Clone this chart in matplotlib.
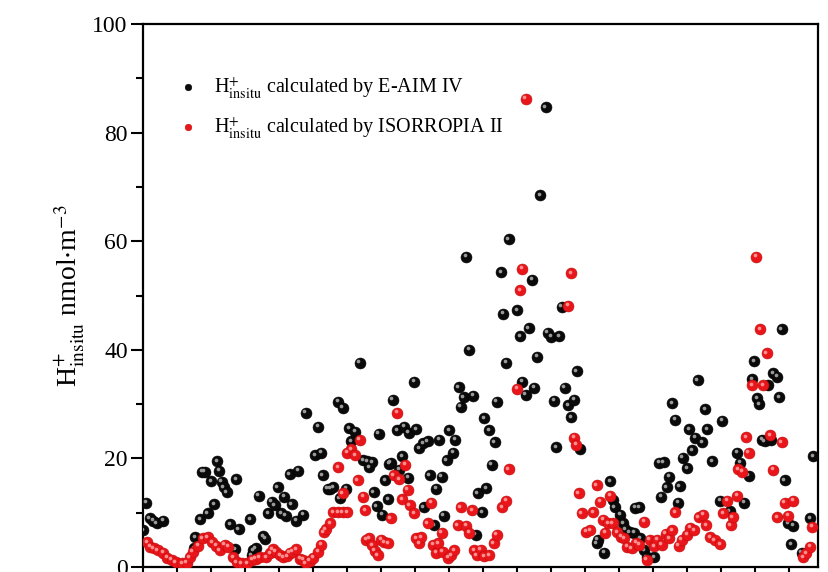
import matplotlib.pyplot as plt
import matplotlib.transforms as mtrans
import numpy as np

# H+ insitu, E-AIM IV (black) -- sample position / value
eaim_x = [0, 1, 2, 3, 4, 6, 15, 15.3, 16.8, 17.4, 18.2, 19.1, 20, 20.9, 21.8, 22.4, 23.2, 23.8,
          24.7, 25.6, 27.1, 27.4, 28.2, 31.5, 32, 32.4, 33.2, 34.1, 35.3, 35.9, 36.8, 37.9, 38.8,
          39.7, 40.6, 41.5, 42, 43.2, 43.8, 45, 45.6, 47.1, 47.9, 50.6, 51.5, 52.4, 52.9, 54.3,
          55, 55.9, 57.4, 57.9, 58.8, 59.7, 60.6, 61.2, 62.4, 63.8, 64.7, 65.9, 66.5, 67.4, 67.9,
          68.8, 69.4, 70.3, 71.2, 72.1, 72.4, 72.9, 73.5, 74.7, 75.3, 76.2, 76.8, 78, 78.2, 79.7,
          80.3, 81.2, 82.4, 82.6, 83.8, 84.4, 85.6, 86.2, 87.1, 87.9, 88.5, 89.4, 90, 91.2, 91.8,
          92.9, 93.5, 94.4, 95, 95.9, 97.1, 97.9, 98.5, 99.7, 100.3, 100.9, 101.8, 102.6, 103.5,
          104.1, 105.3, 105.9, 106.8, 107.6, 110, 110.9, 111.5, 112.6, 113.5, 114.4, 115, 115.9,
          116.8, 118.5, 119.1, 120, 120.9, 121.5, 122.4, 123.2, 124.1, 125, 125.9, 126.8, 127.6,
          128.5, 133.5, 133.8, 135.6, 137.4, 138.2, 138.8, 140.3, 141.2, 141.8, 143.2, 144.4,
          144.7, 145.9, 146.2, 147.4, 148.2, 150.3, 151.8, 152.4, 153.2, 154.1, 154.7, 155.6,
          156.5, 157.4, 157.9, 158.8, 160, 160.6, 161.5, 162.4, 163.2, 164.4, 165.3, 165.9, 167.4,
          169.7, 170.3, 172.6, 174.7, 175.6, 176.8, 178.2, 179.1, 179.7, 180.6, 181.2, 182.1,
          182.9, 183.8, 184.7, 185.3, 186.5, 187.1, 187.9, 188.8, 189.7, 190.6, 191.2, 193.8,
          196.2, 197.1]
eaim_y = [6.8, 11.8, 9.0, 8.5, 8.1, 8.5, 3.5, 5.5, 8.8, 17.5, 17.5, 9.9, 15.8, 11.6, 19.5, 17.7,
          15.7, 14.7, 13.8, 7.9, 3.3, 16.2, 7.0, 8.8, 2.2, 3.1, 3.5, 13.1, 5.7, 5.2, 9.9, 12.0,
          11.4, 14.7, 9.9, 12.9, 9.4, 17.1, 11.6, 8.5, 17.7, 9.6, 28.4, 20.6, 25.8, 21.0, 16.9,
          14.4, 14.4, 14.7, 30.4, 12.7, 29.3, 14.4, 25.6, 23.2, 24.9, 37.6, 19.7, 19.5, 18.4,
          19.3, 13.8, 11.2, 24.5, 9.6, 16.0, 12.5, 19.0, 19.2, 30.8, 25.2, 17.9, 20.4, 25.8, 16.4,
          24.7, 34.1, 25.4, 21.9, 22.8, 11.0, 23.2, 16.9, 7.7, 14.4, 23.4, 16.6, 9.4, 19.7, 25.2,
          21.0, 23.4, 33.1, 29.5, 31.3, 57.1, 40.0, 31.5, 5.9, 13.6, 10.1, 27.4, 14.5, 25.2, 18.8,
          23.0, 30.4, 54.3, 46.6, 37.6, 60.4, 47.3, 42.5, 34.1, 31.7, 44.0, 52.9, 33.0, 38.7,
          68.5, 84.7, 43.1, 42.4, 30.6, 22.1, 42.5, 47.9, 33.0, 29.8, 27.6, 30.8, 36.1, 21.7,
          4.4, 5.0, 2.6, 15.8, 12.3, 11.0, 9.6, 8.1, 7.0, 6.4, 6.3, 10.9, 11.0, 5.3, 3.1, 1.8,
          1.8, 19.2, 12.9, 19.3, 14.7, 16.6, 30.2, 27.1, 11.8, 14.9, 20.1, 18.2, 25.4, 21.5, 23.8,
          34.4, 23.0, 29.1, 25.4, 19.5, 12.2, 26.9, 10.3, 21.0, 19.2, 11.8, 16.8, 34.6, 37.9,
          31.1, 30.0, 23.4, 23.2, 33.5, 23.4, 35.7, 35.0, 31.3, 43.8, 16.0, 8.1, 4.2, 7.6, 2.6,
          9.0, 20.4]

# H+ insitu, ISORROPIA II (red)
isor_x = [1.2, 2.1, 3.2, 4.4, 5.9, 7.1, 8.5, 9.7, 11.5, 12.9, 13.8, 14.7, 16.2, 17.6, 19.1, 20.3,
          21.5, 22.6, 24.1, 25, 26.5, 27.6, 29.1, 30.6, 32.1, 33.2, 34.4, 36.2, 37.4, 38.2, 39.1,
          40.3, 41.2, 42.4, 43.2, 44.1, 45, 46.2, 47.1, 47.9, 49.1, 50, 51.5, 52.4, 53.2, 53.8,
          55, 55.9, 57.4, 58.8, 60, 57.4, 58.8, 60, 61.2, 62.4, 63.2, 63.8, 64.7, 65.3, 65.6,
          66.5, 67.4, 68.2, 69.1, 70, 70.9, 72.1, 72.9, 73.8, 74.7, 75.3, 76.2, 77.1, 77.9, 78.5,
          79.7, 80.3, 81.2, 81.8, 83.8, 84.7, 85.3, 86.2, 86.8, 87.9, 88.2, 89.7, 90.6, 91.5,
          92.6, 93.5, 95, 95.9, 96.8, 97.4, 98.2, 99.4, 100.3, 101.8, 103.2, 104.1, 105.6, 106.8,
          107.6, 110, 110.9, 111.5, 112.6, 125, 125.9, 126.8, 127.4, 128.2, 129.1, 130.3, 131.5,
          132.4, 133.5, 134.4, 135.3, 135.9, 136.8, 137.4, 138.2, 139.4, 140.6, 141.5, 142.4,
          143.8, 145, 145.9, 147.4, 148.2, 149.1, 150.3, 151.2, 152.6, 153.8, 154.7, 155.6,
          156.5, 157.6, 158.5, 160, 160.9, 162.1, 163.5, 164.7, 165.6, 166.8, 168.2, 169.7,
          170.6, 171.8, 172.9, 173.5, 174.7, 175, 176.2, 177.4, 178.2, 179.1, 180.3, 181.5,
          182.4, 183.5, 184.4, 185.3, 186.5, 187.9, 188.8, 189.7, 191.2, 194.1, 195, 196.2, 196.8]
isor_y = [4.6, 3.7, 3.5, 3.1, 2.6, 1.7, 1.3, 0.9, 0.7, 0.8, 1.8, 2.8, 3.9, 5.3, 5.5, 4.6, 3.9,
          3.1, 4.1, 3.7, 1.8, 0.9, 0.7, 0.7, 1.3, 1.5, 1.8, 1.8, 2.5, 3.3, 2.8, 2.2, 1.8, 2.0,
          2.6, 2.8, 3.3, 1.5, 1.3, 0.7, 1.2, 1.7, 2.8, 4.1, 6.4, 7.0, 8.1, 10.1, 10.1, 10.1,
          10.1, 18.4, 13.6, 21.0, 21.7, 20.6, 16.0, 23.4, 12.9, 10.5, 5.0, 5.3, 4.0, 3.0, 2.2,
          5.0, 4.6, 4.4, 9.0, 16.9, 28.4, 16.2, 12.5, 18.8, 14.2, 11.4, 9.9, 5.3, 4.4, 5.5, 8.1,
          11.8, 4.1, 2.6, 4.4, 6.3, 2.8, 1.7, 2.2, 3.1, 7.7, 11.0, 7.6, 6.3, 10.5, 3.1, 2.2, 3.2,
          2.0, 2.2, 4.4, 5.9, 11.0, 12.2, 18.0, 32.8, 51.0, 54.9, 86.2, 48.1, 54.1, 23.8, 22.5,
          13.6, 9.9, 6.5, 6.8, 10.1, 15.1, 12.0, 8.7, 6.3, 8.1, 13.1, 8.1, 6.4, 5.6, 5.3, 3.7,
          3.5, 4.5, 4.1, 8.3, 1.3, 5.0, 3.8, 5.0, 4.1, 6.1, 5.3, 6.8, 10.1, 3.9, 5.0, 5.9, 7.2,
          6.8, 9.2, 9.6, 7.7, 5.5, 4.9, 4.2, 9.9, 12.2, 7.7, 9.2, 13.1, 18.0, 17.5, 23.9, 21.0,
          33.5, 57.1, 43.8, 33.5, 39.4, 24.3, 17.9, 9.2, 23.0, 11.8, 9.4, 12.2, 1.8, 2.5, 3.7, 7.4]

plt.rcParams["font.family"] = ["Liberation Serif", "DejaVu Serif"]
plt.rcParams["mathtext.fontset"] = "stix"

fig = plt.figure(figsize=(8.29, 5.72), dpi=100)
ax = fig.add_axes([0.1725, 0.0087, 0.8142, 0.9493])

# sphere look: dark ball + small light spot up-left
shine = mtrans.offset_copy(ax.transData, fig=fig, x=-1.5, y=1.5, units="dots")
ax.scatter(eaim_x, eaim_y, s=62, color="#0a0a0a", edgecolors="black", linewidths=0.4,
           label=r"H$^{+}_{\rm insitu}$ calculated by E-AIM IV", zorder=3)
ax.scatter(eaim_x, eaim_y, s=7, color="#9a9a9a", linewidths=0, transform=shine, zorder=3.1)
ax.scatter(isor_x, isor_y, s=62, color="#e8161b", edgecolors="#c40a0a", linewidths=0.4,
           label=r"H$^{+}_{\rm insitu}$ calculated by ISORROPIA II", zorder=4)
ax.scatter(isor_x, isor_y, s=7, color="#ff8f8f", linewidths=0, transform=shine, zorder=4.1)

ax.set_xlim(0, 198.5)
ax.set_ylim(0, 100)
ax.set_xticks(np.arange(0, 200, 10))
ax.set_xticklabels([])
ax.set_yticks([0, 20, 40, 60, 80, 100])
ax.set_yticks(np.arange(10, 100, 20), minor=True)
ax.tick_params(axis="y", which="major", direction="out", length=9, width=1.5, labelsize=17, pad=2)
ax.tick_params(axis="y", which="minor", direction="out", length=5, width=1.5)
ax.tick_params(axis="x", which="major", direction="out", length=8, width=1.5)
for sp in ax.spines.values():
    sp.set_linewidth(1.6)

ax.set_ylabel(r"H$^{+}_{\rm insitu}$ nmol$\cdot$m$^{-3}$", fontsize=20, labelpad=4)

ax.legend(loc="upper left", bbox_to_anchor=(0.01, 0.94), frameon=False, fontsize=14.5,
          handletextpad=0.3, labelspacing=0.75, markerscale=0.6)

fig.savefig("out.png", dpi=100)
